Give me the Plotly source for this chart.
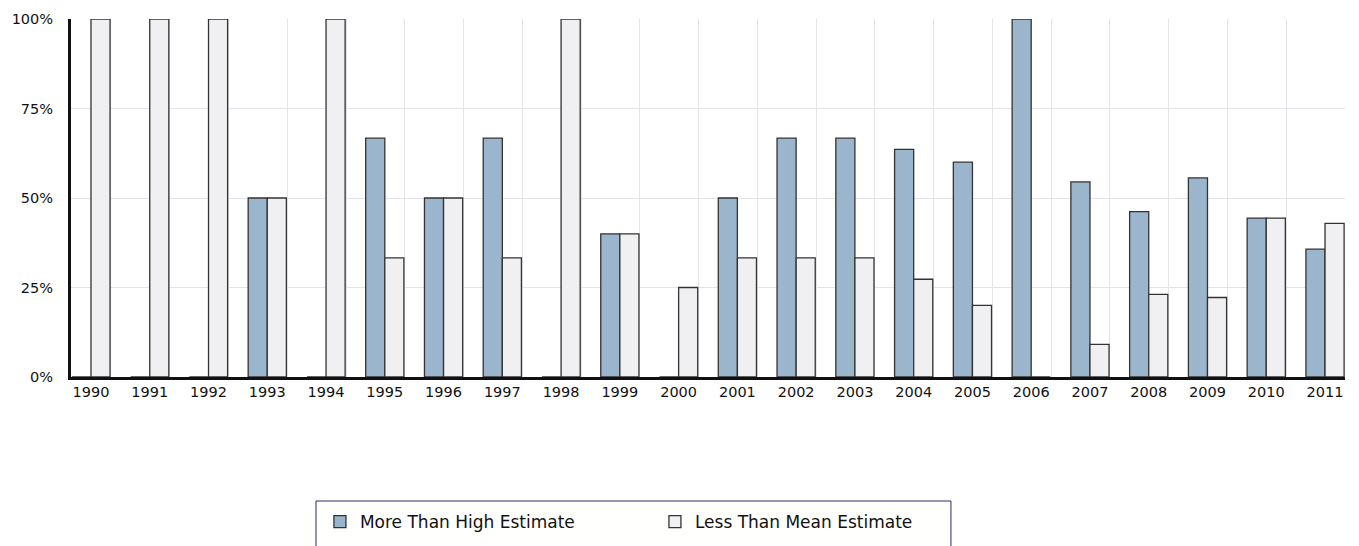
import plotly.graph_objects as go

years = [str(y) for y in range(1990, 2012)]
more_than_high = [0, 0, 0, 50, 0, 66.7, 50, 66.7, 0, 40, 0, 50, 66.7, 66.7, 63.6, 60, 100, 54.5, 46.2, 55.6, 44.4, 35.7]
less_than_mean = [100, 100, 100, 50, 100, 33.3, 50, 33.3, 100, 40, 25, 33.3, 33.3, 33.3, 27.3, 20, 0, 9.1, 23.1, 22.2, 44.4, 42.9]
y_ticks = [0, 25, 50, 75, 100]

xs = list(range(len(years)))
font = "DejaVu Sans, Verdana, sans-serif"

fig = go.Figure()
fig.add_trace(go.Bar(
    x=xs, y=more_than_high, name="More Than High Estimate",
    marker=dict(color="#9BB5CC", line=dict(color="#333333", width=1.3)),
))
fig.add_trace(go.Bar(
    x=xs, y=less_than_mean, name="Less Than Mean Estimate",
    marker=dict(color="#F0EFF2", line=dict(color="#333333", width=1.3)),
))

# legend frame
fig.add_shape(
    type="rect", xref="paper", yref="paper",
    x0=0.1923, x1=0.6907, y0=-0.3464, y1=-0.50,
    line=dict(color="#2a2a6a", width=1), fillcolor="#FFFFFD", layer="below",
)

fig.update_layout(
    width=1351, height=538,
    margin=dict(l=63, r=14, t=11, b=169, autoexpand=False),
    paper_bgcolor="white", plot_bgcolor="white",
    barmode="group", bargap=0.35, bargroupgap=0,
    font=dict(family=font, size=14.5, color="#111"),
    showlegend=True,
    legend=dict(
        orientation="h", x=0.1954, xanchor="left", y=-0.3547, yanchor="top",
        borderwidth=0, bgcolor="rgba(0,0,0,0)",
        font=dict(family=font, size=17, color="#111"),
        entrywidth=290, entrywidthmode="pixels",
        traceorder="normal",
    ),
)
fig.update_xaxes(
    range=[-0.34, len(years) - 1 + 0.34],
    tickmode="array", tickvals=xs, ticktext=years,
    showgrid=False, automargin=False,
    minor=dict(tickvals=[i + 0.34 for i in xs], showgrid=True, gridcolor="#E4E4E8", gridwidth=1, ticklen=0),
    showline=True, linecolor="#111", linewidth=3,
    ticks="", tickfont=dict(family=font, size=14.5, color="#111"),
    zeroline=False, fixedrange=True,
)
fig.update_yaxes(
    range=[0, 100],
    tickmode="array", tickvals=y_ticks, ticktext=[f"{v}%" for v in y_ticks],
    showgrid=True, gridcolor="#E4E4E8", gridwidth=1, automargin=False,
    showline=True, linecolor="#111", linewidth=3,
    ticks="", ticklabelstandoff=12,
    tickfont=dict(family=font, size=14.5, color="#111"),
    zeroline=False, fixedrange=True,
)

fig.write_html("out.html")
